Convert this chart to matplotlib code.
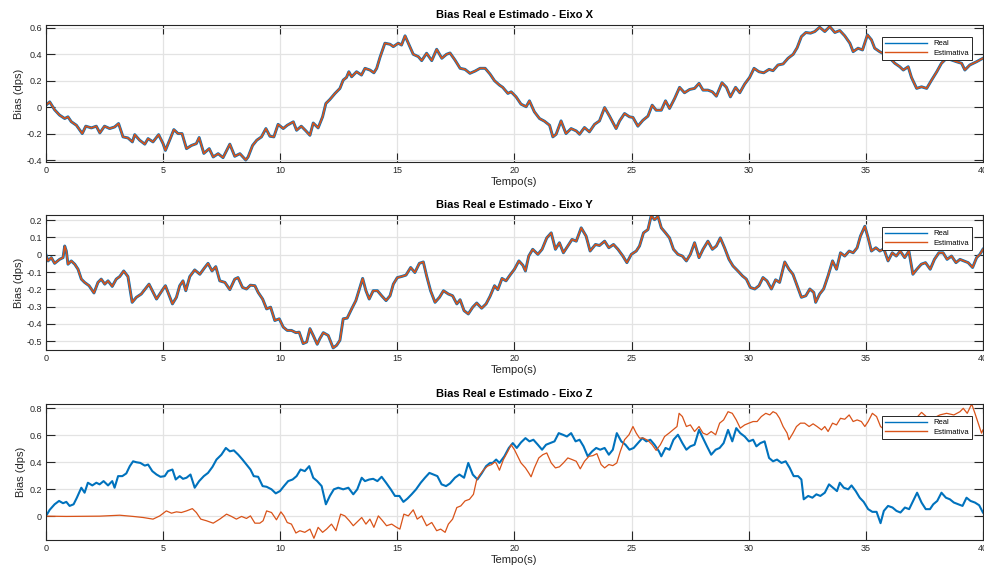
import matplotlib
matplotlib.use('Agg')
import matplotlib.pyplot as plt
from matplotlib.ticker import FuncFormatter

plt.rcParams['font.family'] = ['Liberation Sans', 'DejaVu Sans']
plt.rcParams['axes.unicode_minus'] = False

# eixo X (real e estimado praticamente iguais)
t_x = [0, 0.16, 0.37, 0.58, 0.8, 0.94, 1.08, 1.3, 1.55, 1.7, 1.94, 2.15, 2.3, 2.5, 2.72, 2.93,
       3.1, 3.29, 3.5, 3.69, 3.79, 4.0, 4.22, 4.36, 4.57, 4.81, 5.0, 5.1, 5.28, 5.46, 5.64, 5.81,
       6.0, 6.21, 6.42, 6.54, 6.74, 6.97, 7.14, 7.35, 7.56, 7.85, 8.06, 8.28, 8.53, 8.63, 8.82,
       9.0, 9.2, 9.39, 9.56, 9.73, 9.91, 10.13, 10.3, 10.56, 10.7, 10.9, 11.1, 11.27, 11.41,
       11.62, 11.81, 11.95, 12.12, 12.34, 12.55, 12.69, 12.83, 12.93, 13.05, 13.26, 13.47,
       13.62, 13.83, 14.0, 14.12, 14.26, 14.47, 14.69, 14.83, 15.04, 15.18, 15.33, 15.47,
       15.68, 15.9, 16.04, 16.25, 16.47, 16.68, 16.9, 17.1, 17.25, 17.46, 17.68, 17.89, 18.1,
       18.32, 18.53, 18.75, 18.96, 19.15, 19.36, 19.5, 19.72, 19.86, 20.07, 20.28, 20.5, 20.64,
       20.85, 21.07, 21.28, 21.5, 21.64, 21.78, 21.99, 22.2, 22.42, 22.64, 22.78, 22.99, 23.2,
       23.42, 23.63, 23.85, 24.06, 24.34, 24.49, 24.7, 24.91, 25.06, 25.27, 25.48, 25.7, 25.88,
       26.05, 26.27, 26.45, 26.62, 26.84, 27.05, 27.26, 27.48, 27.69, 27.88, 28.05, 28.26,
       28.45, 28.62, 28.86, 29.05, 29.22, 29.44, 29.62, 29.83, 30.04, 30.23, 30.44, 30.64,
       30.87, 31.04, 31.25, 31.47, 31.68, 31.9, 32.07, 32.25, 32.44, 32.64, 32.82, 33.03,
       33.25, 33.46, 33.68, 33.89, 34.1, 34.32, 34.46, 34.67, 34.86, 35.07, 35.24, 35.38,
       35.59, 35.81, 36.03, 36.24, 36.45, 36.6, 36.81, 36.95, 37.17, 37.38, 37.6, 37.81,
       38.03, 38.23, 38.45, 38.66, 38.87, 39.09, 39.23, 39.44, 39.73, 40.0]
bias_x = [0.015, 0.04, -0.02, -0.06, -0.086, -0.073, -0.11, -0.137, -0.2, -0.144, -0.157, -0.144,
          -0.195, -0.144, -0.162, -0.15, -0.124, -0.225, -0.233, -0.263, -0.208, -0.25, -0.28,
          -0.238, -0.263, -0.208, -0.276, -0.327, -0.25, -0.17, -0.2, -0.2, -0.314, -0.29,
          -0.276, -0.23, -0.35, -0.314, -0.377, -0.352, -0.382, -0.28, -0.372, -0.352, -0.40,
          -0.377, -0.29, -0.25, -0.225, -0.162, -0.22, -0.225, -0.13, -0.162, -0.137, -0.111,
          -0.175, -0.144, -0.18, -0.213, -0.12, -0.157, -0.073, 0.028, 0.058, 0.104, 0.142,
          0.205, 0.225, 0.268, 0.23, 0.268, 0.243, 0.294, 0.281, 0.26, 0.294, 0.377, 0.484,
          0.476, 0.458, 0.484, 0.47, 0.54, 0.484, 0.40, 0.382, 0.352, 0.408, 0.352, 0.438, 0.37,
          0.40, 0.41, 0.357, 0.294, 0.286, 0.256, 0.273, 0.294, 0.294, 0.25, 0.2, 0.167, 0.15,
          0.104, 0.116, 0.078, 0.023, 0.003, 0.048, -0.035, -0.086, -0.106, -0.137, -0.225,
          -0.205, -0.104, -0.2, -0.162, -0.18, -0.205, -0.154, -0.187, -0.13, -0.104, -0.003,
          -0.068, -0.162, -0.104, -0.048, -0.073, -0.078, -0.144, -0.1, -0.068, 0.015, -0.023,
          -0.023, 0.048, -0.01, 0.066, 0.15, 0.109, 0.134, 0.142, 0.18, 0.129, 0.129, 0.116,
          0.083, 0.185, 0.15, 0.078, 0.15, 0.109, 0.175, 0.225, 0.294, 0.268, 0.26, 0.286,
          0.276, 0.319, 0.327, 0.37, 0.40, 0.45, 0.534, 0.565, 0.56, 0.572, 0.605, 0.572, 0.61,
          0.565, 0.58, 0.54, 0.484, 0.42, 0.446, 0.433, 0.547, 0.51, 0.446, 0.42, 0.40, 0.37,
          0.332, 0.306, 0.281, 0.306, 0.225, 0.142, 0.154, 0.142, 0.205, 0.268, 0.332, 0.37,
          0.357, 0.344, 0.332, 0.281, 0.319, 0.344, 0.37]
est_x = bias_x

# eixo Y
t_y = [0, 0.09, 0.23, 0.37, 0.58, 0.73, 0.8, 0.87, 0.94, 1.08, 1.23, 1.37, 1.51, 1.65, 1.84,
       2.05, 2.22, 2.36, 2.51, 2.65, 2.83, 3.0, 3.15, 3.32, 3.5, 3.68, 3.86, 4.07, 4.29, 4.4,
       4.54, 4.72, 4.86, 5.0, 5.1, 5.21, 5.4, 5.57, 5.71, 5.85, 5.97, 6.14, 6.35, 6.57, 6.78,
       6.92, 7.09, 7.25, 7.42, 7.64, 7.85, 8.06, 8.2, 8.39, 8.56, 8.73, 8.92, 9.06, 9.25, 9.42,
       9.59, 9.77, 9.96, 10.13, 10.3, 10.48, 10.67, 10.81, 10.98, 11.13, 11.27, 11.41, 11.58,
       11.69, 11.84, 12.05, 12.26, 12.41, 12.55, 12.69, 12.86, 13.05, 13.23, 13.38, 13.52,
       13.66, 13.8, 13.97, 14.15, 14.33, 14.52, 14.69, 14.83, 15.0, 15.18, 15.37, 15.57, 15.75,
       15.94, 16.11, 16.25, 16.42, 16.61, 16.8, 16.97, 17.18, 17.36, 17.54, 17.68, 17.85,
       18.03, 18.22, 18.39, 18.6, 18.79, 18.96, 19.15, 19.29, 19.47, 19.64, 19.81, 20.0,
       20.19, 20.36, 20.47, 20.61, 20.78, 21.0, 21.18, 21.38, 21.57, 21.75, 21.92, 22.09,
       22.28, 22.46, 22.64, 22.85, 23.06, 23.23, 23.46, 23.63, 23.85, 24.03, 24.23, 24.42,
       24.63, 24.8, 24.99, 25.2, 25.34, 25.51, 25.7, 25.84, 25.98, 26.13, 26.27, 26.45, 26.62,
       26.79, 26.98, 27.17, 27.34, 27.51, 27.69, 27.88, 28.05, 28.26, 28.45, 28.62, 28.79,
       28.97, 29.16, 29.33, 29.54, 29.73, 29.9, 30.07, 30.26, 30.44, 30.61, 30.78, 30.97,
       31.15, 31.32, 31.54, 31.72, 31.89, 32.07, 32.25, 32.44, 32.61, 32.78, 32.86, 33.03,
       33.2, 33.39, 33.58, 33.75, 33.92, 34.1, 34.29, 34.46, 34.63, 34.77, 34.96, 35.1, 35.24,
       35.43, 35.6, 35.77, 35.95, 36.13, 36.3, 36.47, 36.66, 36.84, 37.01, 37.18, 37.37,
       37.55, 37.75, 37.93, 38.12, 38.3, 38.47, 38.66, 38.85, 39.02, 39.19, 39.37, 39.56,
       39.73, 39.87, 40.0]
bias_y = [0.0, -0.036, -0.017, -0.05, -0.027, -0.017, 0.05, 0.021, -0.055, -0.036, -0.055,
          -0.084, -0.141, -0.16, -0.179, -0.221, -0.16, -0.141, -0.17, -0.151, -0.183, -0.141,
          -0.126, -0.094, -0.126, -0.275, -0.246, -0.227, -0.189, -0.17, -0.208, -0.256,
          -0.227, -0.198, -0.179, -0.218, -0.284, -0.246, -0.179, -0.151, -0.208, -0.126,
          -0.088, -0.113, -0.074, -0.05, -0.094, -0.069, -0.151, -0.16, -0.202, -0.141,
          -0.132, -0.189, -0.198, -0.176, -0.179, -0.218, -0.256, -0.313, -0.303, -0.38,
          -0.37, -0.418, -0.437, -0.437, -0.45, -0.447, -0.513, -0.504, -0.427, -0.466,
          -0.517, -0.485, -0.45, -0.466, -0.538, -0.523, -0.494, -0.37, -0.366, -0.313,
          -0.265, -0.198, -0.137, -0.208, -0.256, -0.208, -0.208, -0.237, -0.265, -0.237,
          -0.17, -0.132, -0.126, -0.118, -0.074, -0.103, -0.05, -0.042, -0.122, -0.208,
          -0.275, -0.246, -0.208, -0.227, -0.237, -0.284, -0.26, -0.323, -0.342, -0.303,
          -0.279, -0.309, -0.284, -0.24, -0.179, -0.202, -0.137, -0.151, -0.118, -0.084,
          -0.036, -0.061, -0.094, -0.008, 0.031, 0.002, 0.031, 0.097, 0.126, 0.031, 0.069,
          0.011, 0.05, 0.088, 0.078, 0.155, 0.107, 0.021, 0.059, 0.053, 0.078, 0.04, 0.059,
          0.031, -0.008, -0.046, 0.002, 0.021, 0.05, 0.126, 0.145, 0.225, 0.202, 0.221, 0.155,
          0.126, 0.097, 0.031, 0.002, -0.008, -0.036, 0.002, 0.069, -0.017, 0.031, 0.078,
          0.031, 0.05, 0.097, 0.04, -0.027, -0.065, -0.094, -0.122, -0.141, -0.189, -0.198,
          -0.179, -0.132, -0.151, -0.198, -0.145, -0.16, -0.042, -0.084, -0.113, -0.179,
          -0.246, -0.237, -0.198, -0.218, -0.275, -0.227, -0.198, -0.122, -0.036, -0.084,
          0.011, -0.008, 0.021, 0.011, 0.04, 0.107, 0.164, 0.097, 0.021, 0.04, 0.021, 0.034,
          -0.036, 0.011, -0.008, 0.021, -0.017, 0.021, -0.113, -0.084, -0.055, -0.046,
          -0.084, -0.027, 0.011, 0.011, -0.027, -0.008, -0.046, -0.027, -0.036, -0.046,
          -0.074, -0.017, 0.002, 0.031]
est_y = bias_y

# eixo Z - real
t_z = [0, 0.16, 0.37, 0.56, 0.73, 0.87, 1.01, 1.18, 1.32, 1.51, 1.65, 1.79, 1.98, 2.15, 2.29,
       2.46, 2.65, 2.83, 2.93, 3.08, 3.26, 3.43, 3.58, 3.72, 3.86, 4.03, 4.22, 4.36, 4.54, 4.72,
       4.89, 5.07, 5.21, 5.4, 5.54, 5.71, 5.85, 6.0, 6.17, 6.35, 6.54, 6.74, 6.92, 7.11, 7.28,
       7.49, 7.68, 7.85, 8.02, 8.21, 8.39, 8.56, 8.73, 8.87, 9.06, 9.25, 9.42, 9.63, 9.81,
       9.99, 10.16, 10.34, 10.53, 10.7, 10.87, 11.05, 11.24, 11.41, 11.58, 11.77, 11.95,
       12.12, 12.29, 12.48, 12.69, 12.91, 13.12, 13.29, 13.48, 13.62, 13.8, 13.97, 14.15,
       14.33, 14.52, 14.72, 14.9, 15.09, 15.26, 15.43, 15.61, 15.8, 16.0, 16.18, 16.37,
       16.54, 16.71, 16.89, 17.08, 17.25, 17.46, 17.65, 17.85, 18.03, 18.22, 18.42, 18.6,
       18.79, 18.96, 19.07, 19.22, 19.36, 19.57, 19.76, 19.93, 20.1, 20.28, 20.47, 20.64,
       20.81, 21.0, 21.18, 21.35, 21.52, 21.71, 21.89, 22.07, 22.24, 22.42, 22.61, 22.78,
       22.95, 23.13, 23.32, 23.49, 23.66, 23.85, 24.03, 24.2, 24.37, 24.56, 24.74, 24.91,
       25.09, 25.27, 25.46, 25.63, 25.8, 25.98, 26.17, 26.27, 26.45, 26.62, 26.79, 26.98,
       27.17, 27.34, 27.51, 27.69, 27.88, 28.05, 28.22, 28.4, 28.59, 28.76, 28.93, 29.12,
       29.3, 29.47, 29.64, 29.83, 30.01, 30.19, 30.33, 30.5, 30.68, 30.87, 31.04, 31.21,
       31.4, 31.58, 31.75, 31.92, 32.11, 32.25, 32.35, 32.54, 32.72, 32.89, 33.06, 33.25,
       33.43, 33.6, 33.77, 33.89, 34.06, 34.25, 34.39, 34.57, 34.74, 34.91, 35.1, 35.28,
       35.46, 35.63, 35.77, 35.95, 36.14, 36.31, 36.48, 36.67, 36.85, 37.02, 37.19, 37.38,
       37.56, 37.74, 37.88, 38.05, 38.23, 38.42, 38.59, 38.76, 38.95, 39.13, 39.3, 39.47,
       39.66, 39.84, 40.0]
bias_z = [0.0, 0.047, 0.088, 0.113, 0.096, 0.106, 0.076, 0.088, 0.137, 0.211, 0.174, 0.248,
          0.228, 0.248, 0.236, 0.26, 0.228, 0.26, 0.211, 0.297, 0.297, 0.317, 0.371, 0.407,
          0.4, 0.395, 0.375, 0.383, 0.334, 0.309, 0.292, 0.297, 0.334, 0.346, 0.272, 0.297,
          0.277, 0.285, 0.309, 0.211, 0.26, 0.297, 0.321, 0.366, 0.42, 0.456, 0.506, 0.481,
          0.488, 0.456, 0.42, 0.383, 0.346, 0.297, 0.292, 0.223, 0.218, 0.199, 0.169, 0.186,
          0.223, 0.26, 0.272, 0.297, 0.346, 0.334, 0.371, 0.285, 0.26, 0.223, 0.088, 0.15,
          0.199, 0.211, 0.199, 0.211, 0.162, 0.199, 0.285, 0.26, 0.272, 0.277, 0.26, 0.292,
          0.248, 0.199, 0.15, 0.15, 0.106, 0.13, 0.162, 0.199, 0.248, 0.285, 0.321, 0.309,
          0.297, 0.236, 0.223, 0.243, 0.285, 0.309, 0.285, 0.395, 0.309, 0.272, 0.317, 0.371,
          0.395, 0.395, 0.42, 0.395, 0.444, 0.506, 0.542, 0.506, 0.547, 0.579, 0.555, 0.567,
          0.53, 0.493, 0.53, 0.542, 0.555, 0.616, 0.604, 0.591, 0.616, 0.555, 0.567, 0.518,
          0.444, 0.481, 0.506, 0.493, 0.506, 0.456, 0.493, 0.616, 0.555, 0.53, 0.493, 0.506,
          0.542, 0.579, 0.555, 0.567, 0.53, 0.481, 0.444, 0.506, 0.493, 0.567, 0.604, 0.542,
          0.493, 0.518, 0.53, 0.64, 0.579, 0.518, 0.456, 0.493, 0.506, 0.542, 0.64, 0.555,
          0.653, 0.616, 0.591, 0.555, 0.567, 0.518, 0.542, 0.555, 0.432, 0.407, 0.42, 0.395,
          0.407, 0.358, 0.297, 0.297, 0.272, 0.125, 0.15, 0.137, 0.162, 0.15, 0.174, 0.236,
          0.211, 0.186, 0.248, 0.211, 0.199, 0.228, 0.186, 0.137, 0.106, 0.052, 0.032, 0.032,
          -0.052, 0.039, 0.076, 0.064, 0.039, 0.027, 0.064, 0.052, 0.113, 0.174, 0.101, 0.052,
          0.052, 0.088, 0.113, 0.174, 0.137, 0.125, 0.101, 0.088, 0.076, 0.137, 0.113, 0.101,
          0.081, 0.027]

# eixo Z - estimativa
t_z_est = [0, 0.87, 2.29, 3.15, 3.72, 4.15, 4.57, 4.86, 5.14, 5.36, 5.57, 5.78, 6.0, 6.25,
           6.42, 6.61, 6.85, 7.14, 7.42, 7.71, 7.92, 8.13, 8.35, 8.56, 8.73, 8.92, 9.13, 9.27,
           9.42, 9.63, 9.84, 10.03, 10.16, 10.3, 10.48, 10.67, 10.84, 11.05, 11.27, 11.44,
           11.62, 11.81, 11.98, 12.19, 12.38, 12.58, 12.76, 12.95, 13.12, 13.29, 13.48, 13.66,
           13.83, 14.0, 14.19, 14.37, 14.54, 14.76, 14.97, 15.11, 15.28, 15.47, 15.68, 15.85,
           16.04, 16.25, 16.47, 16.68, 16.85, 17.04, 17.18, 17.36, 17.54, 17.71, 17.89, 18.08,
           18.25, 18.39, 18.53, 18.7, 18.85, 19.03, 19.14, 19.22, 19.36, 19.53, 19.72, 19.86,
           20.0, 20.14, 20.28, 20.47, 20.61, 20.71, 20.85, 21.04, 21.21, 21.38, 21.57, 21.75,
           21.92, 22.09, 22.28, 22.46, 22.64, 22.81, 22.99, 23.18, 23.35, 23.52, 23.7, 23.85,
           24.03, 24.2, 24.37, 24.52, 24.7, 24.89, 25.06, 25.2, 25.34, 25.51, 25.7, 25.88,
           26.05, 26.23, 26.41, 26.6, 26.77, 26.94, 27.03, 27.17, 27.34, 27.51, 27.69, 27.88,
           28.05, 28.22, 28.4, 28.59, 28.76, 28.93, 29.12, 29.3, 29.47, 29.64, 29.83, 30.01,
           30.19, 30.36, 30.54, 30.73, 30.9, 31.04, 31.18, 31.32, 31.47, 31.64, 31.72, 31.89,
           32.04, 32.21, 32.39, 32.58, 32.75, 32.92, 33.11, 33.25, 33.39, 33.58, 33.75, 33.92,
           34.1, 34.29, 34.46, 34.63, 34.81, 34.96, 35.1, 35.28, 35.46, 35.63, 35.81, 36.17,
           36.6, 37.02, 37.38, 37.74, 38.16, 38.45, 38.76, 39.02, 39.16, 39.33, 39.52, 39.66,
           39.8, 39.94, 40.0]
est_z = [0.0, -0.002, 0.0, 0.007, -0.002, -0.01, -0.022, 0.002, 0.039, 0.022, 0.032, 0.027,
         0.039, 0.056, 0.027, -0.022, -0.034, -0.052, -0.022, 0.015, -0.002, -0.022, -0.002,
         -0.017, 0.002, -0.052, -0.052, -0.034, 0.039, 0.027, -0.027, 0.032, 0.002, -0.047,
         -0.059, -0.125, -0.108, -0.12, -0.096, -0.164, -0.083, -0.12, -0.096, -0.059,
         -0.108, 0.015, 0.002, -0.034, -0.071, -0.042, -0.01, -0.059, -0.022, -0.083, 0.002,
         -0.034, -0.071, -0.059, -0.083, -0.096, 0.015, 0.002, 0.047, -0.022, 0.002, -0.071,
         -0.047, -0.108, -0.096, -0.12, -0.059, -0.022, 0.064, 0.076, 0.113, 0.125, 0.162,
         0.272, 0.309, 0.346, 0.371, 0.383, 0.40, 0.395, 0.341, 0.42, 0.481, 0.53, 0.493,
         0.444, 0.395, 0.358, 0.321, 0.292, 0.358, 0.432, 0.456, 0.469, 0.395, 0.358, 0.366,
         0.395, 0.432, 0.42, 0.407, 0.351, 0.407, 0.444, 0.449, 0.464, 0.383, 0.358, 0.383,
         0.375, 0.395, 0.481, 0.567, 0.604, 0.665, 0.616, 0.579, 0.579, 0.562, 0.53, 0.488,
         0.53, 0.591, 0.616, 0.64, 0.665, 0.763, 0.739, 0.665, 0.677, 0.628, 0.665, 0.616,
         0.604, 0.628, 0.604, 0.69, 0.714, 0.775, 0.763, 0.714, 0.653, 0.677, 0.69, 0.702,
         0.702, 0.739, 0.763, 0.751, 0.775, 0.763, 0.726, 0.665, 0.616, 0.567, 0.616, 0.665,
         0.69, 0.69, 0.665, 0.685, 0.665, 0.64, 0.665, 0.628, 0.69, 0.677, 0.726, 0.719,
         0.751, 0.702, 0.714, 0.702, 0.665, 0.702, 0.763, 0.739, 0.665, 0.64, 0.689, 0.714,
         0.702, 0.77, 0.714, 0.751, 0.763, 0.751, 0.775, 0.80, 0.763, 0.832, 0.763, 0.69,
         0.616, 0.64]

titulos = ['Bias Real e Estimado - Eixo X', 'Bias Real e Estimado - Eixo Y',
           'Bias Real e Estimado - Eixo Z']
limites_y = [(-0.415, 0.622), (-0.55, 0.229), (-0.177, 0.832)]
ticks_y = [[-0.4, -0.2, 0, 0.2, 0.4, 0.6],
           [-0.5, -0.4, -0.3, -0.2, -0.1, 0, 0.1, 0.2],
           [0, 0.2, 0.4, 0.6, 0.8]]

azul = '#0072BD'
laranja = '#D95319'
cinza = '#262626'

fig = plt.figure(figsize=(9.84, 5.70), dpi=100)

# posicoes dos eixos em fracao da figura
posicoes = [[0.0467, 0.7158, 0.9522, 0.2404],
            [0.0467, 0.3860, 0.9522, 0.2368],
            [0.0467, 0.0526, 0.9522, 0.2386]]

dados = [(t_x, bias_x, t_x, est_x, 2.1, 1.2),
         (t_y, bias_y, t_y, est_y, 2.1, 1.2),
         (t_z, bias_z, t_z_est, est_z, 1.5, 0.9)]

for i in range(3):
    tr, vr, te, ve, lw_r, lw_e = dados[i]
    ax = fig.add_axes(posicoes[i])
    ax.plot(tr, vr, color=azul, lw=lw_r, label='Real')
    ax.plot(te, ve, color=laranja, lw=lw_e, label='Estimativa')

    ax.set_xlim(0, 40)
    ax.set_ylim(limites_y[i])
    ax.set_xticks(range(0, 41, 5))
    ax.set_yticks(ticks_y[i])
    ax.yaxis.set_major_formatter(FuncFormatter(lambda v, p: '%g' % round(v, 2)))

    ax.grid(True, color='#e3e3e3', lw=0.9)
    ax.set_axisbelow(True)
    ax.tick_params(direction='in', length=6.5, width=0.8, top=True, right=True,
                   labelsize=6.5, colors=cinza, pad=3)
    for s in ax.spines.values():
        s.set_color(cinza)
        s.set_linewidth(0.8)

    ax.set_title(titulos[i], fontsize=8, fontweight='bold', pad=5)
    ax.set_xlabel('Tempo(s)', fontsize=8, color=cinza, labelpad=1)
    ax.set_ylabel('Bias (dps)', fontsize=8, color=cinza, labelpad=2)

    leg = ax.legend(loc='upper right', bbox_to_anchor=(0.988, 0.912), borderaxespad=0,
                    fontsize=5.5, handlelength=5.5, fancybox=False, framealpha=1,
                    edgecolor=cinza, borderpad=0.4, labelspacing=0.3)
    leg.get_frame().set_linewidth(0.7)
    for linha in leg.get_lines():
        linha.set_linewidth(1.0)

plt.savefig('out.png', dpi=100)
